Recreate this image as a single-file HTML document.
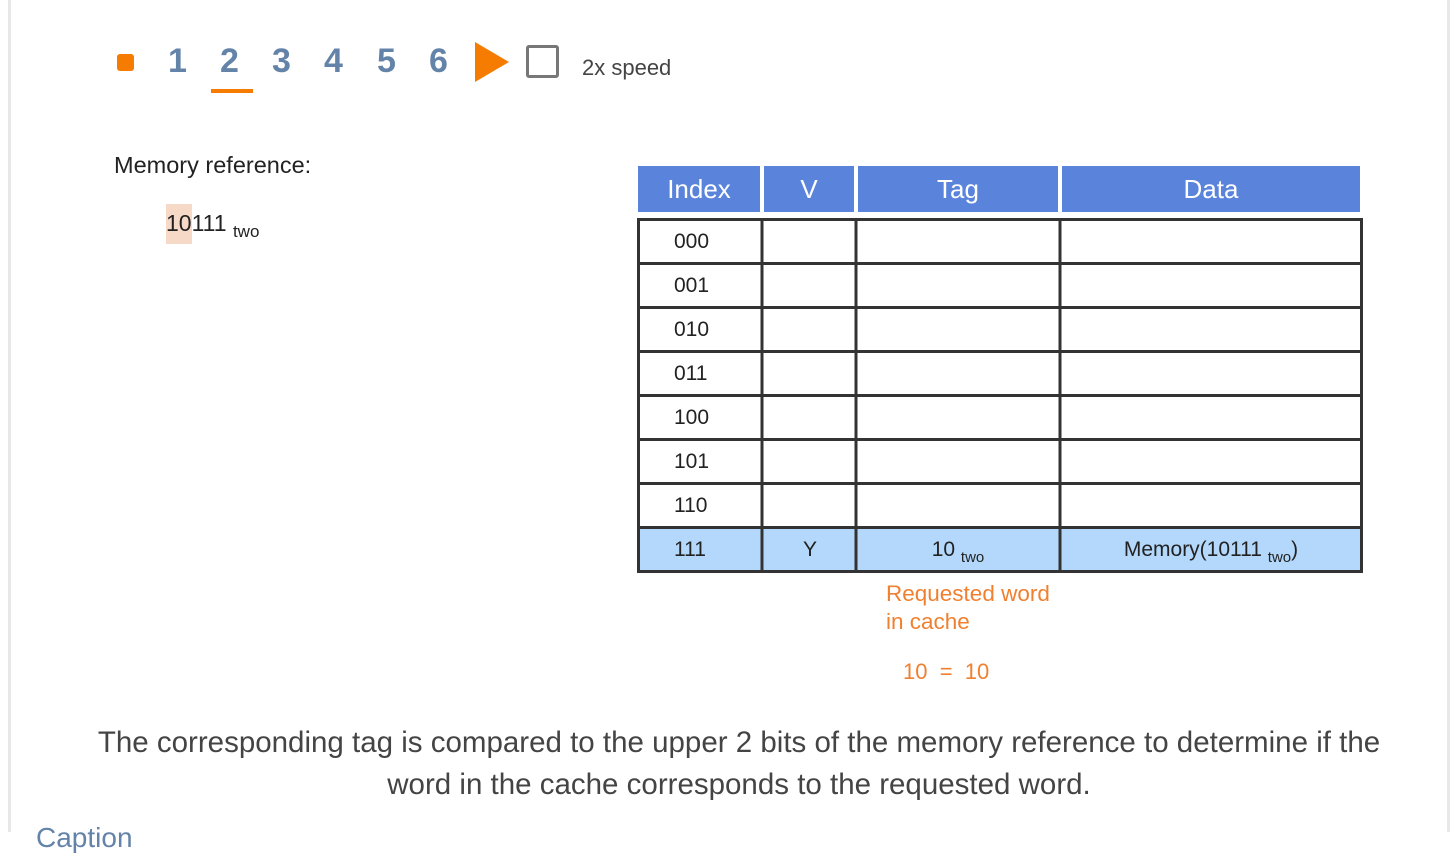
<!DOCTYPE html>
<html><head><style>
body{margin:0;width:1454px;height:832px;background:#fff;position:relative;overflow:hidden;font-family:"Liberation Sans",Arial,sans-serif;}
.a{position:absolute;white-space:nowrap}
.n{font-weight:bold;font-size:34px;color:#6483a8;top:42px}
.c{position:absolute;font-size:21px;color:#222;text-align:center;}
.h{position:absolute;top:166px;height:46px;background:#5a84dc;color:#fff;font-size:26px;line-height:46px;text-align:center}
sub{font-size:15px;vertical-align:-6px}
</style></head><body>
<div class="a" style="left:8px;top:0;width:3px;height:832px;background:#e8e8e8"></div>
<div class="a" style="left:1447px;top:0;width:3px;height:832px;background:#e8e8e8"></div>
<div class="a" style="left:117px;top:54px;width:17px;height:17px;border-radius:3px;background:#f57c00"></div>
<div class="a n" style="left:168px">1</div>
<div class="a n" style="left:220px">2</div>
<div class="a" style="left:211px;top:89px;width:42px;height:4px;background:#f57c00"></div>
<div class="a n" style="left:272px">3</div>
<div class="a n" style="left:324px">4</div>
<div class="a n" style="left:377px">5</div>
<div class="a n" style="left:429px">6</div>
<div class="a" style="left:475px;top:42px;width:0;height:0;border-top:20px solid transparent;border-bottom:20px solid transparent;border-left:34px solid #f57c00"></div>
<div class="a" style="left:526px;top:45px;width:33px;height:33px;border:3px solid #777;border-radius:3px;box-sizing:border-box"></div>
<div class="a" style="left:582px;top:55px;font-size:22px;color:#444">2x speed</div>
<div class="a" style="left:114px;top:152px;font-size:23.5px;color:#222">Memory reference:</div>
<div class="a" style="left:166px;top:204px;width:26px;height:40px;background:#f7d9c7"></div>
<div class="a" style="left:166px;top:210px;font-size:23px;color:#222">10111 <sub style="font-size:17px">two</sub></div>

<div class="h" style="left:638px;width:122px">Index</div>
<div class="h" style="left:764px;width:90px">V</div>
<div class="h" style="left:858px;width:200px">Tag</div>
<div class="h" style="left:1062px;width:298px">Data</div>
<div class="a" style="left:638px;top:528px;width:724px;height:44px;background:#b3d8fb"></div>
<svg class="a" style="left:0;top:0" width="1454" height="832">
<g stroke="#333" stroke-width="3" fill="none">
<rect x="638.5" y="219.5" width="723" height="352"/>
<line x1="762" y1="218" x2="762" y2="572"/><line x1="856" y1="218" x2="856" y2="572"/><line x1="1060" y1="218" x2="1060" y2="572"/>
<line x1="638" y1="263.5" x2="1362" y2="263.5"/><line x1="638" y1="307.5" x2="1362" y2="307.5"/><line x1="638" y1="351.5" x2="1362" y2="351.5"/><line x1="638" y1="395.5" x2="1362" y2="395.5"/><line x1="638" y1="439.5" x2="1362" y2="439.5"/><line x1="638" y1="483.5" x2="1362" y2="483.5"/><line x1="638" y1="527.5" x2="1362" y2="527.5"/>
</g></svg>
<div class="c" style="left:674px;top:230px">000</div>
<div class="c" style="left:674px;top:274px">001</div>
<div class="c" style="left:674px;top:318px">010</div>
<div class="c" style="left:674px;top:362px">011</div>
<div class="c" style="left:674px;top:406px">100</div>
<div class="c" style="left:674px;top:450px">101</div>
<div class="c" style="left:674px;top:494px">110</div>
<div class="c" style="left:674px;top:538px">111</div>
<div class="c" style="left:764px;width:92px;top:538px">Y</div>
<div class="c" style="left:858px;width:200px;top:538px">10 <sub>two</sub></div>
<div class="c" style="left:1062px;width:298px;top:538px">Memory(10111 <sub>two</sub>)</div>
<div class="a" style="left:886px;top:580px;font-size:22.5px;color:#f08030;line-height:28px">Requested word<br>in cache</div>
<div class="a" style="left:903px;top:659px;font-size:22px;color:#f08030">10 &nbsp;= &nbsp;10</div>
<div class="a" style="left:12px;width:1454px;top:722px;font-size:29.5px;color:#444;text-align:center;line-height:42px">The corresponding tag is compared to the upper 2 bits of the memory reference to determine if the<br>word in the cache corresponds to the requested word.</div>
<div class="a" style="left:36px;top:822px;font-size:28px;color:#6483a8">Caption</div>
</body></html>
